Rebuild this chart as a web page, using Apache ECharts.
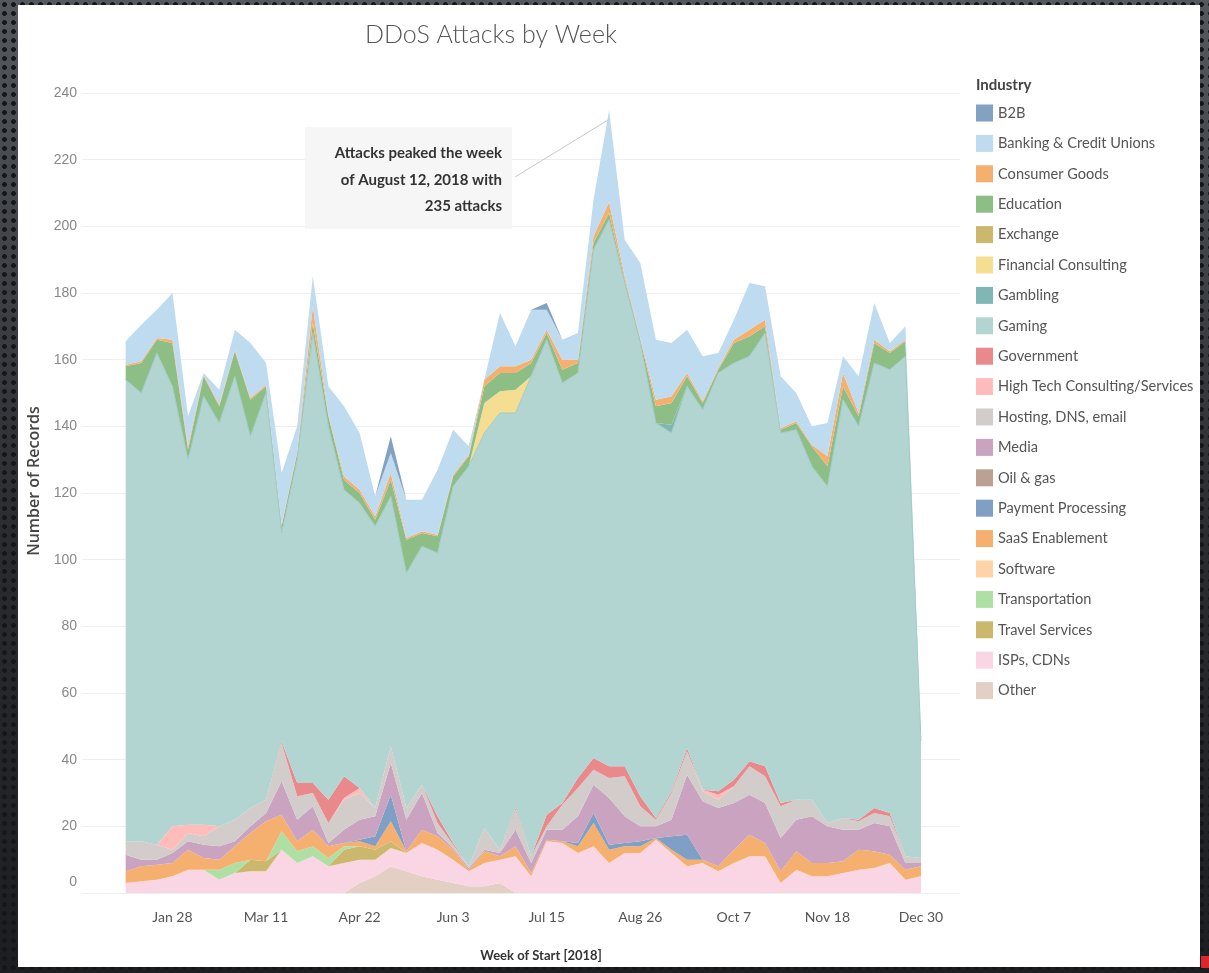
<!DOCTYPE html>
<html>
<head>
<meta charset="utf-8">
<script src="https://cdn.jsdelivr.net/npm/echarts@6/dist/echarts.min.js"></script>
<style>
html,body{margin:0;padding:0;width:1209px;height:973px;overflow:hidden;}
body{background-color:#2c2f34;
  background-image:radial-gradient(circle at 50% 50%, #141619 0, #141619 2px, rgba(0,0,0,0) 2.8px),
                   linear-gradient(180deg,#55585d 0%,#2a2c30 55%,#1c1e21 100%);
  background-size:9px 9px,100% 100%;}
#panel{position:absolute;left:18px;top:5px;width:1182px;height:962px;background:#ffffff;}
#redmark{position:absolute;left:1201px;top:956px;width:8px;height:12px;background:#e0252a;}
#chart{position:absolute;left:0;top:0;width:1209px;height:973px;}
</style>
</head>
<body>
<div id="panel"></div>
<div id="redmark"></div>
<div id="chart"></div>
<script>
// ---------- data ----------
const START = Date.UTC(2018, 0, 7);          // week of Jan 7, 2018
const WEEK = 7 * 24 * 3600 * 1000;
const tickWeekIdx = [3, 9, 15, 21, 27, 33, 39, 45, 51];
const tickLabels = ['Jan 28', 'Mar 11', 'Apr 22', 'Jun 3', 'Jul 15', 'Aug 26', 'Oct 7', 'Nov 18', 'Dec 30'];

const industries = ['B2B', 'Banking & Credit Unions', 'Consumer Goods', 'Education', 'Exchange',
  'Financial Consulting', 'Gambling', 'Gaming', 'Government', 'High Tech Consulting/Services',
  'Hosting, DNS, email', 'Media', 'Oil & gas', 'Payment Processing', 'SaaS Enablement', 'Software',
  'Transportation', 'Travel Services', 'ISPs, CDNs', 'Other'];

const b2b = [0,0,0,0,0,0,0,0,0,0, 0,0,0,0,0,0,0,5,0,0, 0,0,0,0,0,0,0,2,0,0, 0,0,0,0,0,0,0,0,0,0, 0,0,0,0,0,0,0,0,0,0, 0,0];
const banking = [7,11,8.5,14,9,0.5,4.5,6,16.5,6.5, 15.5,7.5,9,8.5,21,17,6,6,11.5,9.5, 19.5,13.5,2.5,0,16,6,15,6,6,8, 11,27.5,11,22.5,18,16,13,13.5,4.5,6, 14,10,15.5,8.5,5.5,10,5,11,11,2.5, 4,1];
const consumerGoods = [0.5,0.5,0.5,1,1,0.5,0.5,0.5,0.5,0.5, 0.5,0.5,5,0.5,1,1,1,2,0.5,0.5, 0.5,0.5,0.5,2,2,2,1,1,3,1, 2,3.3,1,0.5,2,2,1,0.5,0.5,1, 2,2,0.5,0.5,0.5,3,4,1,1,0.5, 0.5,0];
const education = [4,9,4,13,3,6,5,7.5,11,2, 2,2,3,3,3,3,2,5,10,4, 5,3,3,5,5.5,5,4,2,4,3, 2,2,1,1,5,6.5,3,2,1,6, 6,2,1,2,6,6,4,3,6,5, 4.5,0.5];
const exchange = [0,0,0,0,0,0,0,0,0,0, 0,0,0,0,0,0,0,0,0,0, 0,0,0,0,0,0,0,0,0,0, 0,0,0,0,0,0,0,0,0,0, 0,0,0,0,0,0,0,0,0,0, 0,0];
const financialConsulting = [0,0,0,0,0,0,0,0,0,0, 0,0,0,0,0,0,0,0,0,0, 0,0,0,9,6.5,7,0,0,0,0, 0,0,0,0,0,0,0,0,0,0, 0,0,0,0,0,0,0,0,0,0, 0,0];
const gambling = [0,0,0,0,0,0,0,0,0,0, 0,0,0,0,0,0,0,0,0,0, 0,0,0,0,0,0,0,0,0,0, 0,0,0,0,0,2.5,0,0,0,0, 0,0,0,0,0,0,0,0,0,0, 0,0];
const gaming = [138.5,134.5,147.5,132,109.5,128.5,121,133,111.5,122, 62.5,97,135,112,86,85.5,84.5,75,70.5,71.5, 79,107,120,118.5,131,118.5,144,142.5,126,121.5, 152.5,164,145,136,118.5,107.5,108.5,114,125.5,125, 121.5,130,111,111,100,101,125.5,118,133.5,133, 150,35];
const government = [0,0,0,0,0,0,0,0,0,0, 0.5,4,3,7,6.5,0,0,0,0,0, 2,0.5,0,0,0,0.5,0,3.5,0.5,3, 3.5,3.5,3,3,0.5,0.5,1,0,1,2, 1.5,3,1,0,0,0,0,0.5,1.5,1, 0,0];
const highTech = [0,0,0,7,2.5,3.5,0,0,0,0, 0,0,0,0,0.5,1.5,0,0,0,0, 0,0,0,0,0,0,0,0,0,0, 0,0,0,0,0,0,0,0.5,1.5,0, 0,0,0,0,0,0,0,0,0,0, 0,0];
const hosting = [4,5.5,4.5,1,2.5,2.5,6,6.5,5.5,4, 11.5,7,4,6,9,8,2.5,5,3.5,2.5, 3,1,0.5,6.5,1,6,2,1,7.5,8.5, 4.5,6,12,6,2,8,7,3,2.5,5, 8.5,8,9.5,6,5,1,3.5,2.5,3,3, 2,1.5];
const media = [5,2,1.5,3,2.5,4,4,1.5,2,2.5, 10,6.5,7,1,4,6,6,9.5,9.5,11, 1,0.5,0.5,0.5,1,5,3,3,3.5,8, 8.5,14,8,4.5,3.5,5,18,17.5,17.5,14, 12,12,10,9.5,14,11,9.5,6,8.5,8.5, 2,1];
const oilGas = [0,0,0,0,0,0,0,0,0,0, 0,0,0,0,0,0,0,0,0,0, 0,0,0,0,0,0,0,0,0,0, 0,0,0,0,0,0,0,0,0,0, 0,0,0,0,0,0,0,0,0,0, 0,0];
const paymentProcessing = [0,0,0,0,0,0,0,0,0,0, 0,0,0,0,0,0.5,3,8,0,0, 0,0,0,0,0,0,0,0,0,1, 3,1.5,1,1.5,0,4,7.5,0,0,0, 0,0,0,0,0,0,0,0,0,0, 0,0];
const saas = [3.5,4.5,4.5,4,6,3.5,3,5,8,12, 5,3,5,3.5,1,1.5,1,6,0.5,4, 4,3,0.5,3.5,1,3,1,0.5,0.5,2, 7,4,2,2,0.5,1,2,1,1.5,4, 6.5,4,3.5,5.5,4,4,3.5,6,5,2.5, 3,3];
const software = [0,0,0,0,0,0,0,0,0,0, 0,0,0,0,0,0,0,0,0,0, 0,0,0,0,0,0,0,0,0,0, 0,0,0,0,0,0,0,0,0,0, 0,0,0,0,0,0,0,0,0,0, 0,0];
const transportation = [0,0,0,0,0,0,3,3,0,0, 5.5,3.5,3,2.5,1,0,0,0,0,0, 0,0,0,0,0,0,0,0,0,0, 0,0,0,0,0,0,0,0,0,0, 0,0,0,0,0,0,0,0,0,0, 0,0];
const travelServices = [0,0,0,0,0,0,0,0,3.5,3, 0,0,0,0,4,4,3,2,0,0, 0,0,0,0,0,0,0,0,0,0, 0,0,0,0,0,0,0,0,0,0, 0,0,0,0,0,0,0,0,0,0, 0,0];
const isps = [3,3.5,4,5,7,7,4,6,6.5,6.5, 13,9,11,8,9,7,5,5.5,5.5,10, 9,7,4.5,7,7,11,5,15.5,15,12, 14,9,12,12,16,12,8,9,6.5,9, 11,11,3,7,5,5,6,7,7.5,9, 4,5];
const other = [0,0,0,0,0,0,0,0,0,0, 0,0,0,0,0,3,5,8,6.5,5, 4,3,2,2,3,0,0,0,0,0, 0,0,0,0,0,0,0,0,0,0, 0,0,0,0,0,0,0,0,0,0, 0,0];

const values = {
  'B2B': b2b, 'Banking & Credit Unions': banking, 'Consumer Goods': consumerGoods, 'Education': education,
  'Exchange': exchange, 'Financial Consulting': financialConsulting, 'Gambling': gambling, 'Gaming': gaming,
  'Government': government, 'High Tech Consulting/Services': highTech, 'Hosting, DNS, email': hosting,
  'Media': media, 'Oil & gas': oilGas, 'Payment Processing': paymentProcessing, 'SaaS Enablement': saas,
  'Software': software, 'Transportation': transportation, 'Travel Services': travelServices,
  'ISPs, CDNs': isps, 'Other': other
};

// ---------- styles ----------
const colors = {
  'B2B': '#83a1c1', 'Banking & Credit Unions': '#bedbef', 'Consumer Goods': '#f5b06f', 'Education': '#8dbe86',
  'Exchange': '#ccb86c', 'Financial Consulting': '#f5dd92', 'Gambling': '#80b7b4', 'Gaming': '#b3d5d2',
  'Government': '#ea898b', 'High Tech Consulting/Services': '#ffbcba', 'Hosting, DNS, email': '#d2cccb',
  'Media': '#c9a3c0', 'Oil & gas': '#bba192', 'Payment Processing': '#7f9fc4', 'SaaS Enablement': '#f5b06f',
  'Software': '#ffd3a8', 'Transportation': '#b0dfa6', 'Travel Services': '#ccb86c',
  'ISPs, CDNs': '#fad5e3', 'Other': '#e4cfc5'
};
const edgeColors = {'Gaming': '#a2cbc7'};
const FONT = 'Lato, "Open Sans", sans-serif';
const PAD_L = 2.8, PAD_R = 2.5;   // axis padding in weeks

const chart = echarts.init(document.getElementById('chart'), null, {renderer: 'canvas'});

const stackOrder = industries.slice().reverse();
const series = stackOrder.map(name => ({
  name: name,
  type: 'line',
  xAxisIndex: 0,
  stack: 'total',
  stackStrategy: 'all',
  symbol: 'none',
  showSymbol: false,
  silent: true,
  data: values[name].map((v, i) => [START + i * WEEK, v]),
  lineStyle: edgeColors[name] ? {width: 1, color: edgeColors[name]} : {width: 0},
  itemStyle: {color: colors[name]},
  areaStyle: {color: colors[name], opacity: 1},
  emphasis: {disabled: true}
}));

chart.setOption({
  animation: false,
  backgroundColor: 'transparent',
  title: [
    {text: 'DDoS Attacks by Week', left: 365, top: 22, padding: 0,
     textStyle: {fontFamily: FONT, fontWeight: 300, fontSize: 25, color: '#555'}},
    {text: 'Industry', left: 976, top: 78, padding: 0,
     textStyle: {fontFamily: FONT, fontWeight: 'bold', fontSize: 15, color: '#444'}}
  ],
  legend: {
    data: industries,
    orient: 'vertical',
    left: 976, top: 104.5, padding: 0,
    icon: 'rect', itemWidth: 17, itemHeight: 17, itemGap: 13.4,
    selectedMode: false,
    itemStyle: {borderWidth: 0},
    textStyle: {fontFamily: FONT, fontSize: 14.6, color: '#555'}
  },
  grid: {left: 82, right: 249, top: 93, bottom: 80},
  xAxis: [
    {
      type: 'time',
      min: START - PAD_L * WEEK,
      max: START + (51 + PAD_R) * WEEK,
      axisLine: {show: false}, axisTick: {show: false}, splitLine: {show: false},
      axisLabel: {show: false}
    },
    {
      type: 'value',
      position: 'bottom',
      min: -PAD_L, max: 51 + PAD_R,
      axisLine: {show: false}, axisTick: {show: false}, splitLine: {show: false},
      name: 'Week of Start [2018]',
      nameLocation: 'middle',
      nameGap: 56,
      nameTextStyle: {fontFamily: FONT, fontWeight: 'bold', fontSize: 13, color: '#333', padding: [0, 0, 0, 40]},
      axisLabel: {
        customValues: tickWeekIdx,
        formatter: function (v) {
          const k = tickWeekIdx.indexOf(Math.round(v));
          return k >= 0 ? tickLabels[k] : '';
        },
        margin: 17,
        fontFamily: FONT, fontSize: 14, color: '#555'
      }
    }
  ],
  yAxis: {
    type: 'value',
    min: 0, max: 240, interval: 20,
    axisLine: {show: false},
    axisTick: {show: false},
    splitLine: {lineStyle: {color: '#eeeeee', width: 1}},
    name: 'Number of Records',
    nameLocation: 'middle',
    nameRotate: 90,
    nameGap: 40,
    nameTextStyle: {fontFamily: '"Open Sans", sans-serif', fontWeight: 600, fontSize: 16, color: '#444', padding: [0, 0, 0, 24]},
    axisLabel: {
      margin: 5,
      fontFamily: '"Liberation Sans", Arial, sans-serif', fontSize: 14, color: '#888',
      formatter: function (v) { return v === 0 ? '{z|0}' : String(v); },
      rich: {z: {padding: [0, 0, 22, 0], fontFamily: '"Liberation Sans", Arial, sans-serif', fontSize: 14, color: '#888'}}
    }
  },
  series: series
});

// annotation pointing at the peak week
const peakIdx = 31;
const peakTotal = stackOrder.reduce((s, n) => s + values[n][peakIdx], 0);
const peakPx = chart.convertToPixel({gridIndex: 0}, [START + peakIdx * WEEK, peakTotal]);
chart.setOption({
  graphic: [
    {type: 'rect', z: 100, shape: {x: 305, y: 127, width: 207, height: 102}, style: {fill: '#f6f6f6'}},
    {type: 'line', z: 100, shape: {x1: 515, y1: 177, x2: peakPx[0], y2: peakPx[1] + 9},
     style: {stroke: '#c8c8c8', lineWidth: 1}},
    {type: 'text', z: 101, x: 502, y: 140,
     style: {text: 'Attacks peaked the week\nof August 12, 2018 with\n' + peakTotal.toFixed(0) + ' attacks',
             align: 'right', verticalAlign: 'top', lineHeight: 26.5,
             font: 'bold 15px ' + FONT, fill: '#333'}}
  ]
});
</script>
</body>
</html>
